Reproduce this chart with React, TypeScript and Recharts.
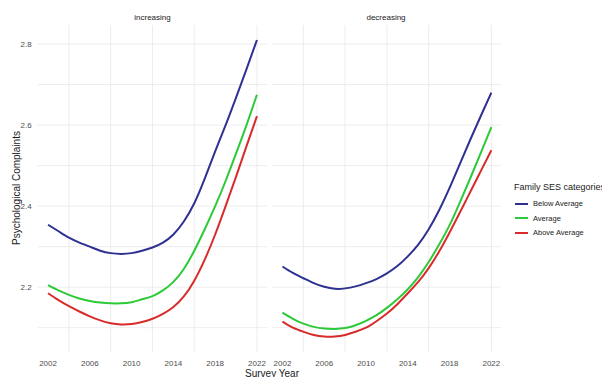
import React from "react";
import { LineChart, Line, XAxis, YAxis, CartesianGrid } from "recharts";

const years = [
  2002, 2003, 2004, 2005, 2006, 2007, 2008, 2009, 2010, 2011, 2012,
  2013, 2014, 2015, 2016, 2017, 2018, 2019, 2020, 2021, 2022,
];

// increasing panel
const incBelow = [
  2.354, 2.338, 2.322, 2.31, 2.3, 2.29, 2.284, 2.282, 2.284, 2.29, 2.298,
  2.31, 2.33, 2.362, 2.407, 2.468, 2.535, 2.6, 2.668, 2.738, 2.81,
];
const incAverage = [
  2.205, 2.192, 2.181, 2.172, 2.166, 2.162, 2.16, 2.16, 2.163, 2.17, 2.178,
  2.192, 2.213, 2.245, 2.29, 2.343, 2.4, 2.462, 2.53, 2.6, 2.675,
];
const incAbove = [
  2.185, 2.168, 2.153, 2.14, 2.128, 2.118, 2.111, 2.108, 2.109, 2.114, 2.122,
  2.134, 2.151, 2.177, 2.216, 2.268, 2.33, 2.4, 2.473, 2.548, 2.622,
];

// decreasing panel
const decBelow = [
  2.251, 2.235, 2.222, 2.21, 2.201, 2.196, 2.197, 2.202, 2.21, 2.22, 2.234,
  2.252, 2.276, 2.305, 2.343, 2.39, 2.445, 2.505, 2.565, 2.623, 2.68,
];
const decAverage = [
  2.137, 2.122, 2.11, 2.102, 2.098, 2.097, 2.099, 2.106, 2.117, 2.131, 2.149,
  2.17, 2.195, 2.225, 2.262, 2.305, 2.353, 2.41, 2.47, 2.532, 2.595,
];
const decAbove = [
  2.115, 2.1, 2.09, 2.082, 2.078, 2.078, 2.082, 2.09, 2.1, 2.116, 2.135,
  2.158, 2.185, 2.213, 2.247, 2.288, 2.335, 2.385, 2.436, 2.487, 2.538,
];

const xTicks = [2002, 2006, 2010, 2014, 2018, 2022];
const xGrid = [2002, 2004, 2006, 2008, 2010, 2012, 2014, 2016, 2018, 2020, 2022];
const yTicks = [2.2, 2.4, 2.6, 2.8];
const yGrid = [2.1, 2.2, 2.3, 2.4, 2.5, 2.6, 2.7, 2.8];

const series = [
  { key: "below", name: "Below Average", color: "#2e3192" },
  { key: "average", name: "Average", color: "#2dc937" },
  { key: "above", name: "Above Average", color: "#d92b2b" },
];

const font = "'Liberation Sans', Arial, sans-serif";

function makeRows(below: number[], average: number[], above: number[]) {
  return years.map((year, i) => ({
    year,
    below: below[i],
    average: average[i],
    above: above[i],
  }));
}

const incRows = makeRows(incBelow, incAverage, incAbove);
const decRows = makeRows(decBelow, decAverage, decAbove);

function Panel({
  rows,
  left,
  width,
  showY,
}: {
  rows: ReturnType<typeof makeRows>;
  left: number;
  width: number;
  showY: boolean;
}) {
  return (
    <div style={{ position: "absolute", left, top: 0 }}>
      <LineChart
        width={width}
        height={377}
        data={rows}
        margin={{ top: 25, right: 0, bottom: 5, left: 0 }}
      >
        <CartesianGrid
          stroke="#e8e8e8"
          strokeWidth={0.8}
          horizontalValues={yGrid}
          verticalValues={xGrid}
        />
        <XAxis
          dataKey="year"
          type="number"
          domain={[2001, 2023]}
          ticks={xTicks}
          axisLine={false}
          tickLine={false}
          height={20}
          tick={{ fontSize: 8, fill: "#4d4d4d", fontFamily: font }}
        />
        <YAxis
          type="number"
          domain={[2.04, 2.847]}
          ticks={yTicks}
          hide={!showY}
          width={showY ? 37.6 : 0}
          axisLine={false}
          tickLine={false}
          tickSize={4}
          tickMargin={2}
          tick={{ fontSize: 8, fill: "#4d4d4d", fontFamily: font }}
        />
        {series.map((s) => (
          <Line
            key={s.key}
            dataKey={s.key}
            name={s.name}
            type="natural"
            stroke={s.color}
            strokeWidth={2}
            dot={false}
            isAnimationActive={false}
          />
        ))}
      </LineChart>
    </div>
  );
}

export default function App() {
  return (
    <div
      style={{
        position: "absolute",
        left: 0,
        top: 0,
        width: 602,
        height: 377,
        overflow: "hidden",
        background: "#fff",
        fontFamily: font,
      }}
    >
      <Panel rows={incRows} left={0} width={267.4} showY />
      <Panel rows={decRows} left={271.5} width={229.8} showY={false} />

      <div style={{ position: "absolute", left: 152.5, top: 13, transform: "translateX(-50%)", fontSize: 8, color: "#1a1a1a" }}>
        increasing
      </div>
      <div style={{ position: "absolute", left: 386, top: 13, transform: "translateX(-50%)", fontSize: 8, color: "#1a1a1a" }}>
        decreasing
      </div>

      <div
        style={{
          position: "absolute",
          left: 16,
          top: 188,
          transform: "translate(-50%, -50%) rotate(-90deg)",
          fontSize: 10,
          color: "#1a1a1a",
          whiteSpace: "nowrap",
        }}
      >
        Psychological Complaints
      </div>
      <div
        style={{
          position: "absolute",
          left: 272,
          top: 368,
          transform: "translateX(-50%)",
          fontSize: 10,
          color: "#1a1a1a",
          whiteSpace: "nowrap",
        }}
      >
        Survey Year
      </div>

      <div style={{ position: "absolute", left: 514, top: 182, fontSize: 9, color: "#1a1a1a", whiteSpace: "nowrap" }}>
        Family SES categories
      </div>
      {series.map((s, i) => (
        <div
          key={s.key}
          style={{ position: "absolute", left: 515, top: 198 + i * 14.5, height: 11, display: "flex", alignItems: "center", whiteSpace: "nowrap" }}
        >
          <div style={{ width: 13, height: 2, background: s.color }} />
          <span style={{ marginLeft: 5, fontSize: 7.5, color: "#1a1a1a" }}>{s.name}</span>
        </div>
      ))}
    </div>
  );
}
